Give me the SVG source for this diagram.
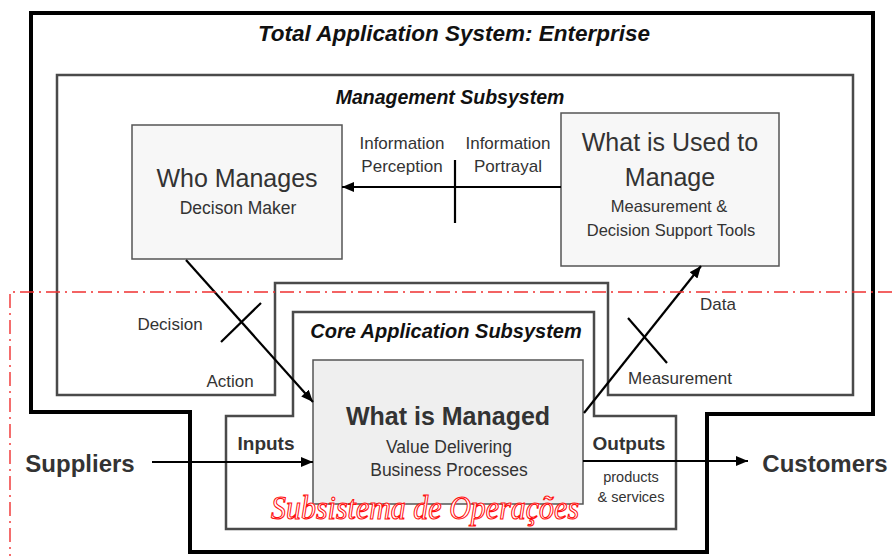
<svg xmlns="http://www.w3.org/2000/svg" width="892" height="556" viewBox="0 0 892 556">
  <style>
    text { font-family: "Liberation Sans", Arial, sans-serif; fill: #333; text-anchor: middle; }
    .frame { fill: none; stroke: #000; stroke-width: 4; stroke-linejoin: miter; }
    .sub { fill: none; stroke: #4a4a4a; stroke-width: 2.5; }
    .box { stroke: #555; stroke-width: 1.5; }
    .conn { stroke: #000; stroke-width: 2.2; fill: none; }
    .tick { stroke: #000; stroke-width: 2.2; }
    .ttl { font-weight: bold; font-style: italic; fill: #111; }
    .big { font-size: 25px; }
    .lbl { font-size: 17px; }
    .bold { font-weight: bold; }
    .ops { stroke: #f03030; stroke-width: 1.4; fill: none; stroke-dasharray: 14 5 2 5; }
    .ops-text { font-family: "Liberation Serif", "Times New Roman", serif; font-style: italic; fill: #fff; stroke: #ff1010; stroke-width: 1; }
  </style>
  <defs>
    <marker id="arrow" viewBox="0 0 12 10" refX="12" refY="5" markerWidth="12" markerHeight="10" markerUnits="userSpaceOnUse" orient="auto">
      <path d="M0,0 L12,5 L0,10 z" fill="#000"/>
    </marker>
  </defs>

  <rect width="892" height="556" fill="#fff"/>

  <!-- enterprise boundary -->
  <g id="enterprise">
    <path class="frame" d="M31,13 H873 V414 H707 V552 H190 V412 H31 Z"/>
    <text class="ttl" x="454" y="41" font-size="22.5">Total Application System: Enterprise</text>
  </g>

  <!-- management subsystem -->
  <g id="management">
    <path class="sub" d="M57,75 H853 V395 H608 V283 H275 V395 H57 Z"/>
    <text class="ttl" x="450" y="104" font-size="19.5">Management Subsystem</text>
  </g>

  <!-- core application subsystem -->
  <g id="core">
    <path class="sub" d="M293,312 H594 V416 H676 V529 H226 V416 H293 Z"/>
    <text class="ttl" x="446" y="338" font-size="20">Core Application Subsystem</text>
  </g>

  <g id="who-manages">
    <rect class="box" x="132" y="125" width="210" height="134" fill="#f7f7f7"/>
    <text class="big" x="237" y="187">Who Manages</text>
    <text x="238" y="214" font-size="17.5">Decison Maker</text>
  </g>

  <g id="used-to-manage">
    <rect class="box" x="561" y="113" width="218" height="153" fill="#f7f7f7"/>
    <text class="big" x="670" y="151">What is Used to</text>
    <text class="big" x="670" y="186">Manage</text>
    <text x="669" y="212" font-size="16.5">Measurement &amp;</text>
    <text x="671" y="236" font-size="16.5">Decision Support Tools</text>
  </g>

  <g id="what-is-managed">
    <rect class="box" x="313" y="360" width="270" height="144" fill="#efefef"/>
    <text class="big bold" x="448" y="425">What is Managed</text>
    <text x="449" y="453" font-size="17.5">Value Delivering</text>
    <text x="449" y="476" font-size="17.5">Business Processes</text>
  </g>

  <g id="suppliers">
    <text class="bold" x="80" y="472" font-size="24">Suppliers</text>
  </g>

  <g id="customers">
    <text class="bold" x="825" y="472" font-size="24">Customers</text>
  </g>

  <!-- connectors -->
  <g id="connectors">
    <line class="conn" x1="561" y1="187" x2="342" y2="187" marker-end="url(#arrow)"/>
    <line class="tick" x1="455" y1="160" x2="455" y2="223"/>
    <line class="conn" x1="186" y1="260" x2="313" y2="402" marker-end="url(#arrow)"/>
    <line class="tick" x1="221" y1="342" x2="261" y2="303"/>
    <line class="conn" x1="584" y1="413" x2="701" y2="266" marker-end="url(#arrow)"/>
    <line class="tick" x1="628" y1="318" x2="667" y2="363"/>
    <line class="conn" x1="152" y1="462" x2="313" y2="462" marker-end="url(#arrow)"/>
    <line class="conn" x1="583" y1="461" x2="748" y2="461" marker-end="url(#arrow)"/>

    <text class="lbl" x="402" y="149">Information</text>
    <text class="lbl" x="402" y="172">Perception</text>
    <text class="lbl" x="508" y="149">Information</text>
    <text class="lbl" x="508" y="172">Portrayal</text>
    <text class="lbl" x="170" y="330">Decision</text>
    <text class="lbl" x="230" y="387">Action</text>
    <text class="lbl" x="718" y="310">Data</text>
    <text class="lbl" x="680" y="384">Measurement</text>
    <text class="bold" x="266" y="450" font-size="19">Inputs</text>
    <text class="bold" x="629" y="450" font-size="19">Outputs</text>
    <text x="631" y="482" font-size="14.5">products</text>
    <text x="631" y="502" font-size="14.5">&amp; services</text>
  </g>

  <!-- operations subsystem overlay -->
  <g id="operations">
    <path class="ops" d="M892,292 H10 V556"/>
    <text class="ops-text" transform="translate(425,519) scale(1,1.12)" x="0" y="0" font-size="30">Subsistema de Operações</text>
  </g>
</svg>
